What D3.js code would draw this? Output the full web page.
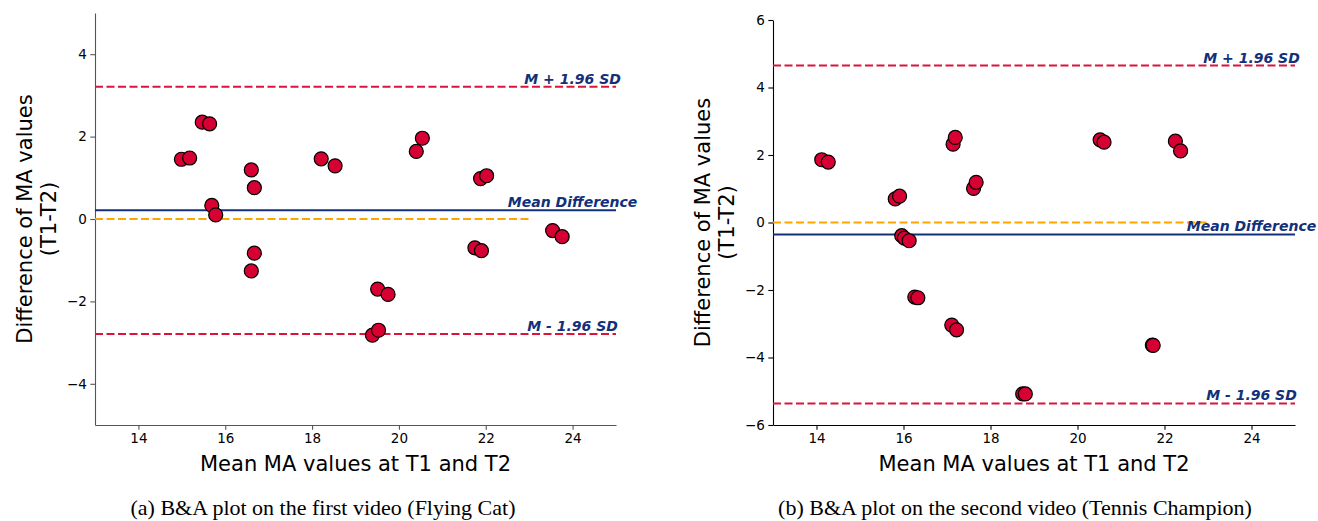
<!DOCTYPE html>
<html>
<head>
<meta charset="utf-8">
<script src="https://cdn.jsdelivr.net/npm/d3@7"></script>
<style>
  body { margin: 0; background: #fff; }
  svg { display: block; }
</style>
</head>
<body>
<div id="chart-area"></div>
<script>
// data
var meanA = [14.99, 15.18, 15.47, 15.64, 15.69, 15.78, 16.60, 16.67, 16.67, 16.60, 18.21, 18.53,
             20.40, 20.54, 19.51, 19.75, 19.39, 19.53, 21.75, 21.90, 21.88, 22.02, 23.54, 23.76];
var diffA = [1.45, 1.48, 2.35, 2.31, 0.33, 0.10, 1.19, 0.76, -0.83, -1.26, 1.46, 1.29,
             1.64, 1.96, -1.70, -1.83, -2.82, -2.70, -0.70, -0.77, 0.98, 1.05, -0.28, -0.43];

var meanB = [14.12, 14.27, 15.81, 15.91, 17.14, 17.19, 17.61, 17.67, 20.52, 20.61, 22.25, 22.37,
             15.96, 16.02, 16.13, 16.26, 16.33, 17.11, 17.22, 18.74, 18.80, 21.72, 21.74];
var diffB = [1.86, 1.79, 0.70, 0.78, 2.32, 2.52, 1.01, 1.19, 2.45, 2.38, 2.41, 2.12,
             -0.39, -0.46, -0.54, -2.21, -2.23, -3.04, -3.18, -5.08, -5.08, -3.63, -3.64];

// upper limit, mean difference, lower limit
var limitLabels = ["M + 1.96 SD", "Mean Difference", "M - 1.96 SD"];
var limitsA = [3.21, 0.21, -2.79];
var limitsB = [4.65, -0.355, -5.36];

var xTicks = [14, 16, 18, 20, 22, 24];
var yTicksA = [-4, -2, 0, 2, 4];
var yTicksB = [-6, -4, -2, 0, 2, 4, 6];

var captions = ["(a) B&A plot on the first video (Flying Cat)",
                "(b) B&A plot on the second video (Tennis Champion)"];

var width = 1318, height = 521;
var navy = "#13307a", red = "crimson", orange = "orange";
var font = "DejaVu Sans, sans-serif";

var svg = d3.select("#chart-area")
    .append("svg")
    .attr("width", width)
    .attr("height", height);

function drawPanel(opt) {
    var x = d3.scaleLinear().domain([13, 25]).range([opt.left, opt.right]);
    var y = d3.scaleLinear().domain(opt.yDomain).range([opt.bottom, opt.top]);
    var g = svg.append("g");

    // axes (left + bottom spines only)
    var xAxis = g.append("g")
        .attr("transform", "translate(0," + opt.bottom + ")")
        .call(d3.axisBottom(x).tickValues(xTicks).tickSize(4.7).tickPadding(3.5).tickSizeOuter(0));
    var yAxis = g.append("g")
        .attr("transform", "translate(" + opt.left + ",0)")
        .call(d3.axisLeft(y).tickValues(opt.yTicks).tickSize(4.7).tickPadding(3.5).tickSizeOuter(0));
    [xAxis, yAxis].forEach(function (a) {
        a.attr("font-size", null).attr("font-family", null);
        a.selectAll("path, line").attr("stroke", opt.spine).attr("stroke-width", 1.1);
        a.selectAll("text").style("font-family", font).style("font-size", "13.5px").attr("fill", "#000");
    });

    // zero reference line
    g.append("line")
        .attr("x1", x(13)).attr("x2", x(23))
        .attr("y1", y(0)).attr("y2", y(0))
        .attr("stroke", orange).attr("stroke-width", 2)
        .attr("stroke-dasharray", "8,3.5");

    // limits of agreement + mean difference
    opt.limits.forEach(function (v, i) {
        g.append("line")
            .attr("x1", x(13)).attr("x2", x(25))
            .attr("y1", y(v)).attr("y2", y(v))
            .attr("stroke", i == 1 ? navy : red)
            .attr("stroke-width", 2)
            .attr("stroke-dasharray", i == 1 ? null : "8,3.5");
        g.append("text")
            .attr("x", x(24))
            .attr("y", y(v) - 3)
            .attr("text-anchor", "middle")
            .attr("font-family", font)
            .attr("font-size", 14)
            .attr("font-weight", "bold")
            .attr("font-style", "italic")
            .attr("fill", navy)
            .text(limitLabels[i]);
    });

    // points
    g.selectAll("circle")
        .data(opt.means)
        .enter()
        .append("circle")
        .attr("cx", function (d) { return x(d); })
        .attr("cy", function (d, i) { return y(opt.diffs[i]); })
        .attr("r", 7)
        .attr("fill", "#d60032")
        .attr("stroke", "#000")
        .attr("stroke-width", 1.2);

    // axis labels
    g.append("text")
        .attr("x", (opt.left + opt.right) / 2)
        .attr("y", 471)
        .attr("text-anchor", "middle")
        .attr("font-family", font)
        .attr("font-size", 21)
        .text("Mean MA values at T1 and T2");

    var yl = g.append("text")
        .attr("transform", "translate(" + (opt.left - 63) + "," + ((opt.top + opt.bottom) / 2) + ") rotate(-90)")
        .attr("text-anchor", "middle")
        .attr("font-family", font)
        .attr("font-size", 21);
    yl.append("tspan").attr("x", 0).attr("y", 0).text("Difference of MA values");
    yl.append("tspan").attr("x", 0).attr("y", 24).text("(T1-T2)");

    // caption
    g.append("text")
        .attr("x", opt.captionX)
        .attr("y", 515)
        .attr("text-anchor", "middle")
        .attr("font-family", "Liberation Serif, Times New Roman, serif")
        .attr("font-size", 22)
        .text(opt.caption);
}

drawPanel({
    left: 95, right: 616, top: 13, bottom: 425,
    yDomain: [-5, 5], yTicks: yTicksA,
    means: meanA, diffs: diffA, limits: limitsA,
    spine: "#555", caption: captions[0], captionX: 323
});

drawPanel({
    left: 773, right: 1295, top: 20, bottom: 425,
    yDomain: [-6, 6], yTicks: yTicksB,
    means: meanB, diffs: diffB, limits: limitsB,
    spine: "#000", caption: captions[1], captionX: 1015
});
</script>
</body>
</html>
